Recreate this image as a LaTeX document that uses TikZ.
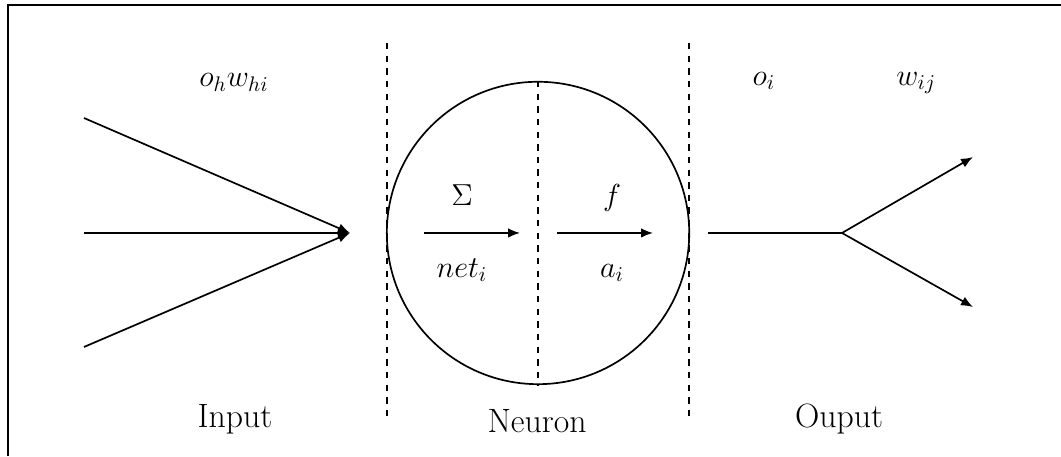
\documentclass[tikz,border=0pt]{standalone}
\usepackage{amsmath,amssymb}
\usetikzlibrary{arrows.meta, positioning, calc}

\begin{document}
\begin{tikzpicture}[
  line/.style={thick},
  sepline/.style={thick, dashed},
  tip/.style={-{Latex[length=2mm, width=1.6mm]}},
  lbl/.style={font=\Large, anchor=base},
  word/.style={font=\fontsize{16}{19}\selectfont, anchor=base}
]
\useasboundingbox (0,0) rectangle (17.683,7.6);
% Frame (top and left edge only)
\draw[line width=0.9pt] (0.133,0) -- (0.133,7.517) -- (17.683,7.517);
% Neuron
\node[circle, draw, thick, minimum size=5.04cm, inner sep=0pt] (neuron) at (8.967,3.717) {};
\draw[sepline] (neuron.north) -- (neuron.south);
% Separators
\coordinate (sepLtop) at (6.45,6.883);
\coordinate (sepLbot) at (6.45,0.6);
\coordinate (sepRtop) at (11.483,6.883);
\coordinate (sepRbot) at (11.483,0.6);
\draw[sepline] (sepLtop) -- (sepLbot);
\draw[sepline] (sepRtop) -- (sepRbot);
% Input
\coordinate (in1) at (1.4,5.633);
\coordinate (in2) at (1.4,3.717);
\coordinate (in3) at (1.4,1.817);
\coordinate (join) at (5.833,3.717);
\foreach \i in {1,2,3}
  \draw[line, tip] (in\i) -- (join);
\node[lbl] (ohw) at (3.9,6.15) {$o_h w_{hi}$};
% Inside the neuron
\coordinate (sumA) at (7.067,3.717);
\coordinate (sumB) at (8.667,3.717);
\coordinate (actA) at (9.283,3.717);
\coordinate (actB) at (10.883,3.717);
\draw[line, tip] (sumA) -- (sumB);
\draw[line, tip] (actA) -- (actB);
\node[lbl] (sigma) at (7.7,4.183) {$\Sigma$};
\node[lbl] (net) at (7.7,2.983) {$net_i$};
\node[lbl] (fun) at (10.2,4.183) {$f$};
\node[lbl] (act) at (10.2,2.983) {$a_i$};
% Output
\coordinate (out0) at (11.8,3.717);
\coordinate (fork) at (14.033,3.717);
\coordinate (out1) at (16.217,4.983);
\coordinate (out2) at (16.217,2.483);
\draw[line] (out0) -- (fork);
\draw[line, tip] (fork) -- (out1);
\draw[line, tip] (fork) -- (out2);
\node[lbl] (oi) at (12.73,6.183) {$o_i$};
\node[lbl] (wij) at (15.27,6.183) {$w_{ij}$};
% Captions
\node[word] (input) at (3.917,0.467) {Input};
\node[word] (neurontxt) at (8.95,0.4) {Neuron};
\node[word] (output) at (13.983,0.467) {Ouput};
\end{tikzpicture}
\end{document}
